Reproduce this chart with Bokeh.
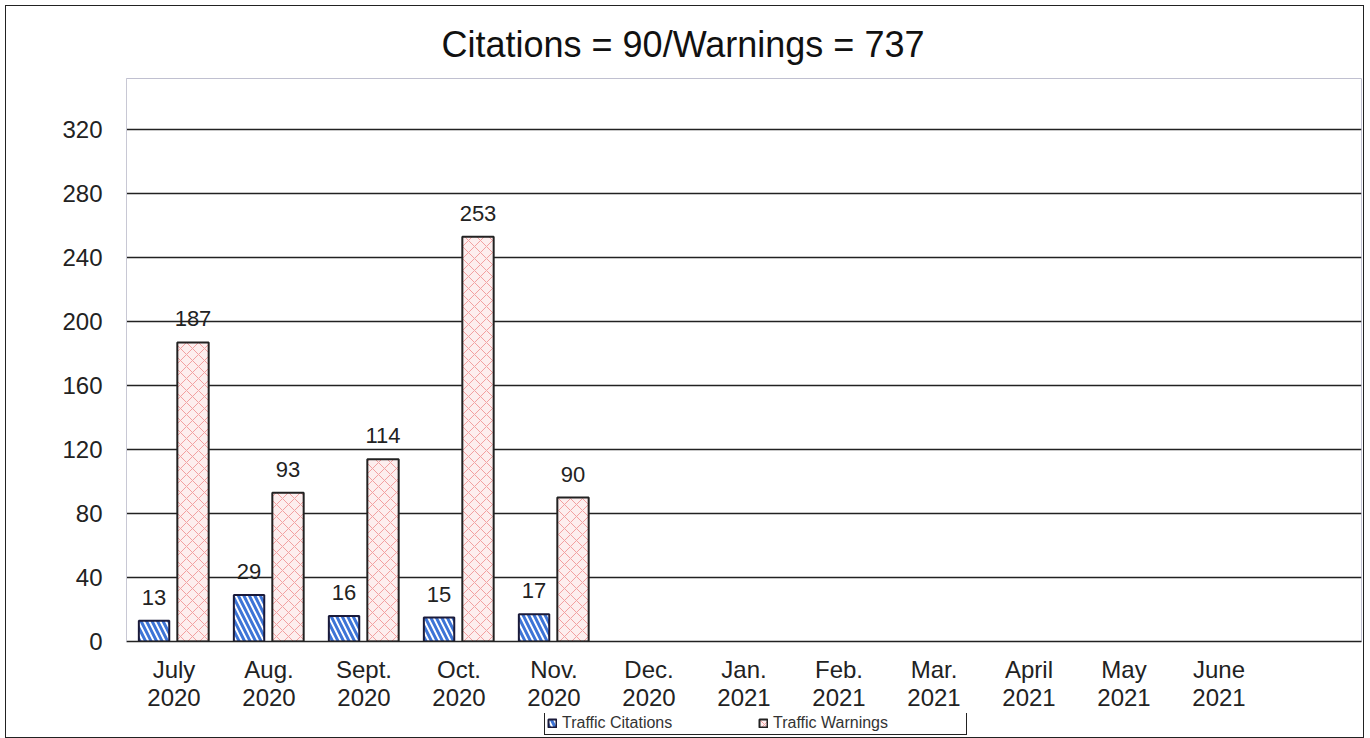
from bokeh.plotting import figure
from bokeh.layouts import column
from bokeh.models import ColumnDataSource, Range1d, FixedTicker, LabelSet, Legend, LegendItem
from bokeh.core.properties import value
from bokeh.embed import file_html
from bokeh.resources import INLINE

months = ["July\n2020", "Aug.\n2020", "Sept.\n2020", "Oct.\n2020", "Nov.\n2020", "Dec.\n2020",
          "Jan.\n2021", "Feb.\n2021", "Mar.\n2021", "April\n2021", "May\n2021", "June\n2021"]
citations = [13, 29, 16, 15, 17, None, None, None, None, None, None, None]
warnings = [187, 93, 114, 253, 90, None, None, None, None, None, None, None]
y_ticks = [0, 40, 80, 120, 160, 200, 240, 280, 320]
title_text = "Citations = 90/Warnings = 737"
series_names = ["Traffic Citations", "Traffic Warnings"]

FONT = "Liberation Sans"
CIT_STYLE = dict(fill_color="white", hatch_pattern="\\", hatch_color="#3d74d6", hatch_weight=3,
                 hatch_scale=11, line_color="#1a1a3a", line_width=2)
WARN_STYLE = dict(fill_color="#fdeeee", hatch_pattern="x", hatch_color="#f2a0a0", hatch_weight=1,
                  hatch_scale=12, line_color="#222222", line_width=2)

def make_source(values, offset):
    idx = [i for i, v in enumerate(values) if v is not None]
    return ColumnDataSource(dict(
        x=[i + offset for i in idx],
        top=[values[i] for i in idx],
        label=[str(values[i]) for i in idx],
    ))

src_c = make_source(citations, -0.21)
src_w = make_source(warnings, 0.2)

p = figure(frame_width=1235, frame_height=563, output_backend="svg", toolbar_location=None,
           x_range=Range1d(-0.5, 12.5), y_range=Range1d(0, 352),
           min_border_left=120, min_border_right=2, min_border_top=72, min_border_bottom=0)

p.title.text = title_text
p.title.align = "left"
p.title.offset = 315
p.title.text_font = FONT
p.title.text_font_size = "36px"
p.title.text_font_style = "normal"
p.title.text_color = "#111111"
p.title.standoff = 28

r_c = p.vbar(x="x", top="top", width=0.32, source=src_c, **CIT_STYLE)
r_w = p.vbar(x="x", top="top", width=0.33, source=src_w, **WARN_STYLE)

for src in (src_c, src_w):
    p.add_layout(LabelSet(x="x", y="top", text="label", source=src, text_align="center",
                          text_baseline="bottom", y_offset=16, text_font=value(FONT),
                          text_font_size="22px", text_color="#222222"))

p.xaxis.ticker = FixedTicker(ticks=list(range(len(months))))
p.xaxis.major_label_overrides = {i: m for i, m in enumerate(months)}
p.yaxis.ticker = FixedTicker(ticks=y_ticks)
for ax in (p.xaxis, p.yaxis):
    ax.major_label_text_font = FONT
    ax.major_label_text_font_size = "24px"
    ax.major_label_text_color = "#222222"
    ax.major_tick_line_color = None
    ax.minor_tick_line_color = None
p.xaxis.major_label_text_line_height = 1.05
p.xaxis.axis_line_color = "#222222"
p.xaxis.axis_line_width = 1.5
p.xaxis.major_label_standoff = 8
p.yaxis.axis_line_color = "#c8c8d4"
p.yaxis.major_label_standoff = 18

p.xgrid.grid_line_color = None
p.ygrid.grid_line_color = "#222222"
p.ygrid.grid_line_width = 1.5
p.outline_line_color = "#c0c0d0"
p.outline_line_width = 1

# legend strip below the chart (same series and styles, hidden renderers)
pl = figure(width=1357, height=24, output_backend="svg", toolbar_location=None,
            x_range=Range1d(-0.5, 12.5), y_range=Range1d(0, 352),
            x_axis_location=None, y_axis_location=None,
            min_border_left=0, min_border_right=0, min_border_top=0, min_border_bottom=0)
pl.grid.grid_line_color = None
pl.outline_line_color = None
lc = pl.vbar(x="x", top="top", width=0.32, source=src_c, visible=False, **CIT_STYLE)
lw = pl.vbar(x="x", top="top", width=0.33, source=src_w, visible=False, **WARN_STYLE)

legend = Legend(items=[LegendItem(label=series_names[0], renderers=[lc]),
                       LegendItem(label=series_names[1], renderers=[lw])],
                orientation="horizontal", location=(418, 2), margin=0,
                label_text_font=FONT, label_text_font_size="16px", label_text_color="#333333",
                label_height=16, label_width=191, label_standoff=5,
                glyph_width=10, glyph_height=10, spacing=5, padding=2,
                border_line_color="#222222", border_line_width=1.5, border_line_alpha=1,
                inactive_fill_alpha=0,
                background_fill_color="white", background_fill_alpha=1)
pl.add_layout(legend, "center")

layout = column(p, pl, spacing=0)
layout.styles = {"border": "1.5px solid #222", "margin": "5px 0 0 5px"}

open("out.html", "w").write(file_html(layout, INLINE))
